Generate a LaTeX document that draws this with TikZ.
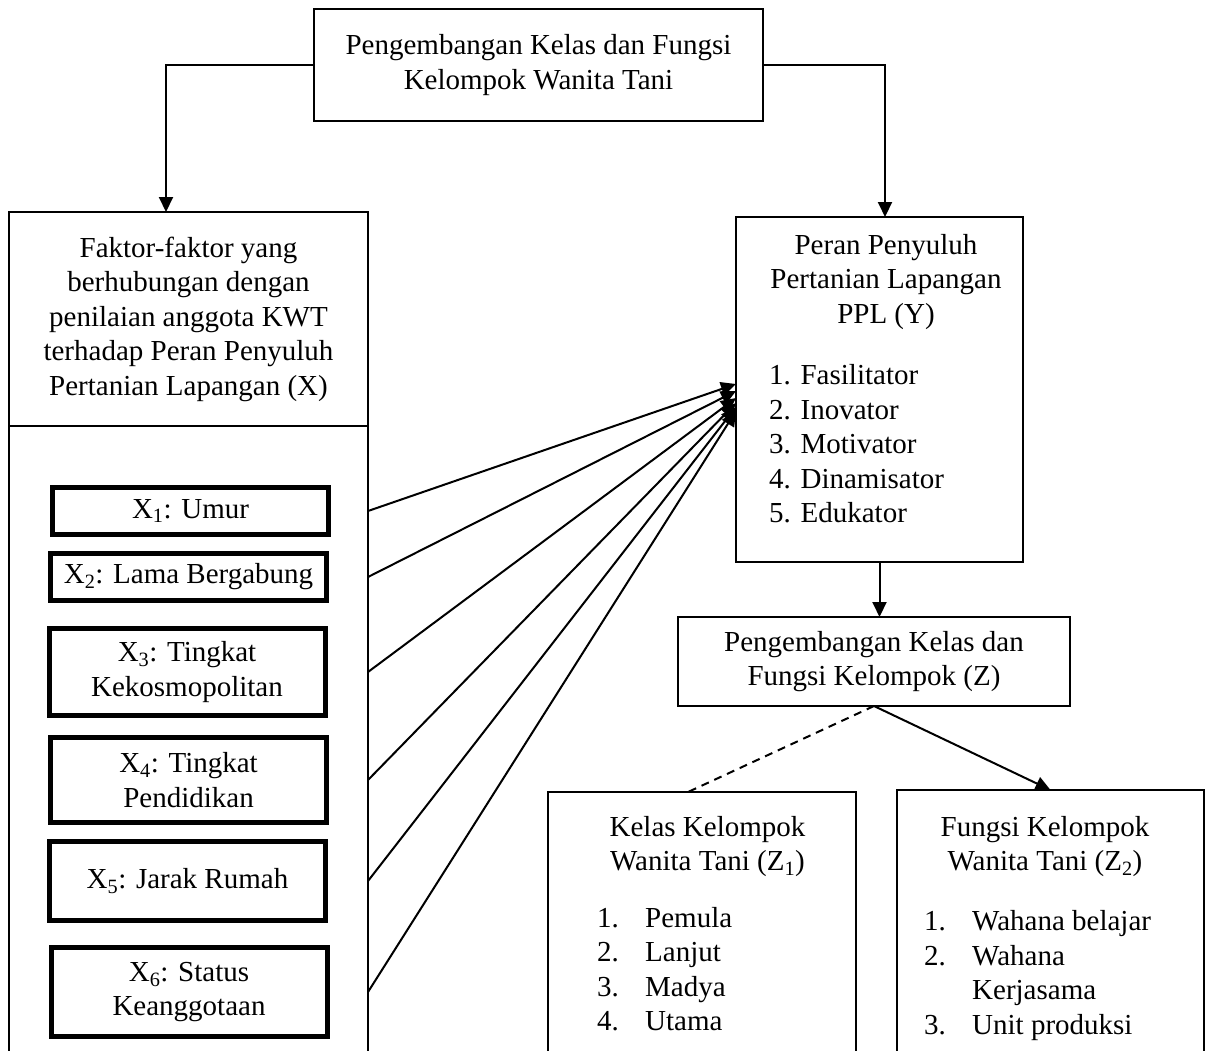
\documentclass[tikz,border=0pt]{standalone}
\usepackage{fontspec}
\setmainfont{Liberation Serif}
\usetikzlibrary{arrows.meta,positioning}

\tikzset{
	every node/.style={font=\fontsize{29}{34.5}\selectfont, inner sep=0pt},
	frame/.style={draw, line width=2.5pt, outer sep=0pt},
	factor/.style={draw, line width=5pt, minimum width=276pt, align=center},
	link/.style={line width=2pt, -{Triangle[length=15pt,width=14pt]}},
	dashlink/.style={line width=2pt, dash pattern=on 8pt off 6pt},
}

\begin{document}
\begin{tikzpicture}[x=1pt, y=-1pt]
	\useasboundingbox (0,0) rectangle (1206,1050);
	\clip (0,0) rectangle (1206,1050);
	% top box
	\node [frame, minimum width=449pt, minimum height=112pt, align=center] (top) at (538.5,65)
		{Pengembangan Kelas dan Fungsi\\Kelompok Wanita Tani};
	% left column (X)
	\node [frame, minimum width=359pt, minimum height=214pt, align=center] (xhead) at (188.5,319)
		{Faktor-faktor yang\\berhubungan dengan\\penilaian anggota KWT\\terhadap Peran Penyuluh\\Pertanian Lapangan (X)};
	\draw [frame] (xhead.south west) -- ++(0,700);
	\draw [frame] (xhead.south east) -- ++(0,700);
	\node [factor, minimum height=47pt] (x1) at (190.5,511) {X\textsubscript{1}: Umur};
	\node [factor, minimum height=47pt] (x2) at (188.5,577) {X\textsubscript{2}: Lama Bergabung};
	\node [factor, minimum height=87pt] (x3) at (187,672) {X\textsubscript{3}: Tingkat\\Kekosmopolitan};
	\node [factor, minimum height=85pt] (x4) at (188.5,780) {X\textsubscript{4}: Tingkat\\Pendidikan};
	\node [factor, minimum height=79pt] (x5) at (187.5,881) {X\textsubscript{5}: Jarak Rumah};
	\node [factor, minimum height=89pt] (x6) at (189,992) {X\textsubscript{6}: Status\\Keanggotaan};
	% PPL box (Y)
	\node [frame, minimum width=287pt, minimum height=345pt] (ppl) at (879.5,389.5) {};
	\node [align=center] (ppltitle) at (886,282) {Peran Penyuluh\\Pertanian Lapangan\\PPL (Y)};
	\node [anchor=west, align=left] (ppllist) at (769,444)
		{1. Fasilitator\\2. Inovator\\3. Motivator\\4. Dinamisator\\5. Edukator};
	% Z boxes
	\node [frame, minimum width=392pt, minimum height=89pt, align=center] (z) at (874,661.5)
		{Pengembangan Kelas dan\\Fungsi Kelompok (Z)};
	\node [frame, anchor=north, minimum width=308pt, minimum height=400pt] (z1) at (702,792) {};
	\node [frame, anchor=north, minimum width=307pt, minimum height=400pt] (z2) at (1050.5,790) {};
	\node [align=center] (z1title) at (707.5,846.5) {Kelas Kelompok\\Wanita Tani (Z\textsubscript{1})};
	\node [anchor=west] (z1list) at (597,972)
		{\begin{tabular}{@{}p{48pt}@{}l@{}}1. & Pemula\\2. & Lanjut\\3. & Madya\\4. & Utama\end{tabular}};
	\node [align=center] (z2title) at (1045,846.5) {Fungsi Kelompok\\Wanita Tani (Z\textsubscript{2})};
	\node [anchor=west] (z2list) at (924,975.5)
		{\begin{tabular}{@{}p{48pt}@{}l@{}}1. & Wahana belajar\\2. & Wahana\\ & Kerjasama\\3. & Unit produksi\end{tabular}};
	%
	\draw [link] (top.west) -| ([xshift=-22.5pt]xhead.north);
	\draw [link] (top.east) -| ([xshift=5.5pt]ppl.north);
	\draw [link] (x1.east -| xhead.east) -- ([yshift=5.5pt]ppl.west);
	\draw [link] (x2.east -| xhead.east) -- ([yshift=-1.5pt]ppl.west);
	\draw [link] (x3.east -| xhead.east) -- ([yshift=-8.5pt]ppl.west);
	\draw [link] (x4.east -| xhead.east) -- ([yshift=-13.5pt]ppl.west);
	\draw [link] (x5.east -| xhead.east) -- ([yshift=-17.5pt]ppl.west);
	\draw [link] (x6.east -| xhead.east) -- ([yshift=-21.5pt]ppl.west);
	\draw [link] (ppl.south) -- (ppl.south |- z.north);
	\draw [dashlink] (z.south) -- ([xshift=-14pt]z1.north);
	\draw [link] (z.south) -- (z2.north);
\end{tikzpicture}
\end{document}
